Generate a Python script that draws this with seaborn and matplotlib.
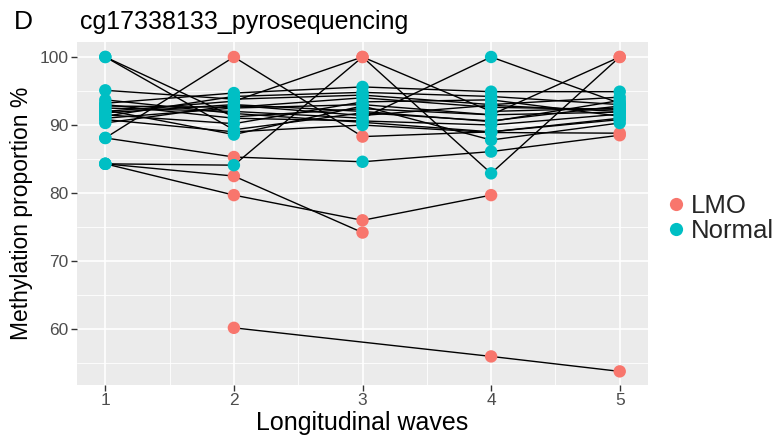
import numpy as np
import pandas as pd
import matplotlib
matplotlib.use("Agg")
import matplotlib.pyplot as plt
from matplotlib.ticker import MultipleLocator
from matplotlib.lines import Line2D
import seaborn as sns

# ---- data (one entry per subject, NaN = not measured) ----
waves = [1, 2, 3, 4, 5]
wave1 = [100, 100, 88.1, 88.1, 84.3, 84.3, np.nan, 84.3, 92.0, 92.5, 91.0, 95.1, 93.2, 91.8, 92.8, 91.5, 93.7, 90.8, 92.2, 91.3, 90.3, 93.0]
wave2 = [89.3, 91.2, 100, 85.3, 82.5, 79.7, 60.2, 84.1, 93.5, 92.0, 92.5, 93.8, 94.7, 93.0, 92.6, 90.2, 91.7, 89.0, 88.6, 94.2, 92.9, 91.0]
wave3 = [91.8, 92.4, 88.3, 84.6, 74.2, 76.0, np.nan, 100, 100, 91.0, 93.0, 94.4, 95.6, 92.0, 94.0, 93.4, 90.4, 90.0, 92.8, 94.8, 91.4, 90.6]
wave4 = [90.6, 91.5, 89.0, 86.1, np.nan, 79.7, 56.0, 82.9, 92.0, 100, 91.5, 93.0, 94.9, 90.5, 92.6, 93.7, 89.0, 88.9, 87.8, 94.2, 92.9, 90.0]
wave5 = [92.8, 91.9, 91.0, 88.5, np.nan, np.nan, 53.8, 100, 92.5, 93.2, 100, 94.1, 94.9, 93.6, 92.3, 91.3, 90.8, 88.8, 90.3, 93.0, 92.0, 91.6]
status1 = ["N"] * 22
status2 = ["N", "N", "L", "L", "L", "L", "L", "N", "N", "N", "N", "N", "N", "N", "N", "N", "N", "N", "N", "N", "N", "N"]
status3 = ["N", "N", "L", "N", "L", "L", "L", "L", "L", "N", "N", "N", "N", "N", "N", "N", "N", "N", "N", "N", "N", "N"]
status4 = ["N", "N", "N", "N", "L", "L", "L", "N", "N", "N", "N", "N", "N", "N", "N", "N", "N", "N", "N", "N", "N", "N"]
status5 = ["N", "N", "N", "L", "L", "L", "L", "L", "N", "N", "L", "N", "N", "N", "N", "N", "N", "L", "N", "N", "N", "N"]
status_names = {"L": "LMO", "N": "Normal"}
y_ticks = [60, 70, 80, 90, 100]

rows = []
for w, vals, sts in zip(waves, [wave1, wave2, wave3, wave4, wave5],
                        [status1, status2, status3, status4, status5]):
    for sid, (v, s) in enumerate(zip(vals, sts)):
        if not np.isnan(v):
            rows.append({"subject": sid, "wave": w, "value": v, "status": status_names[s]})
df = pd.DataFrame(rows).sort_values(["subject", "wave"])

# ---- style ----
sns.set_theme(style="darkgrid")
plt.rcParams["font.family"] = ["Liberation Sans", "DejaVu Sans"]

fig = plt.figure(figsize=(7.79, 4.37), dpi=100)
ax = fig.add_axes([77 / 779, 1 - 385 / 437, (648 - 77) / 779, (385 - 42) / 437])
ax.set_facecolor("#EBEBEB")

palette = {"LMO": "#F8766D", "Normal": "#00BFC4"}

sns.lineplot(data=df, x="wave", y="value", units="subject", estimator=None,
             sort=True, color="black", lw=1.0, ax=ax, legend=False, zorder=2)
sns.scatterplot(data=df, x="wave", y="value", hue="status", palette=palette,
                s=80, linewidth=0, ax=ax, legend=False, zorder=3)

ax.set_xlim(0.78, 5.22)
ax.set_ylim(51.8, 102.2)
ax.set_xticks(waves)
ax.set_yticks(y_ticks)
ax.xaxis.set_minor_locator(MultipleLocator(0.5))
ax.yaxis.set_minor_locator(MultipleLocator(5))
ax.grid(which="major", color="white", lw=1.2)
ax.grid(which="minor", color="white", lw=0.6)
ax.set_axisbelow(True)
for sp in ax.spines.values():
    sp.set_visible(False)
ax.tick_params(axis="both", which="major", length=4, width=1, color="#333333",
               labelcolor="#4D4D4D", labelsize=12.5, pad=2, bottom=True, left=True)
ax.tick_params(which="minor", length=0)

ax.set_xlabel("Longitudinal waves", fontsize=18, color="black", labelpad=2)
ax.set_ylabel("Methylation proportion %", fontsize=16.5, color="black", labelpad=5)

fig.text(80 / 779, 1 - 22 / 437, "cg17338133_pyrosequencing", fontsize=18,
         va="center", ha="left", color="black")
fig.text(14 / 779, 1 - 22 / 437, "D", fontsize=19, va="center", ha="left", color="black")

handles = [Line2D([], [], marker="o", ls="", markersize=9.5, color=palette[k], markeredgewidth=0)
           for k in ["LMO", "Normal"]]
fig.legend(handles, ["LMO", "Normal"], loc="upper left",
           bbox_to_anchor=(668 / 779, 1 - 194 / 437), frameon=False, fontsize=18.5,
           handlelength=0.6, handletextpad=0.3, labelspacing=0.05, borderpad=0,
           borderaxespad=0)

fig.savefig("out.png", dpi=100)
